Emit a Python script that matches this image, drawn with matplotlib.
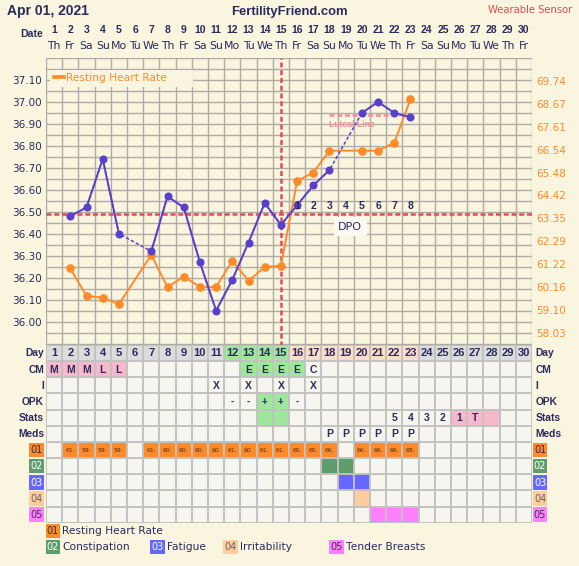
import numpy as np
import matplotlib.pyplot as plt
from matplotlib import transforms
from matplotlib.lines import Line2D
from matplotlib.patches import Rectangle

W, H = 579, 566
nan = np.nan

# ---- data (April 2021 cycle) ----
days = np.arange(1, 31)
weekdays = ["Th", "Fr", "Sa", "Su", "Mo", "Tu", "We", "Th", "Fr", "Sa",
            "Su", "Mo", "Tu", "We", "Th", "Fr", "Sa", "Su", "Mo", "Tu",
            "We", "Th", "Fr", "Sa", "Su", "Mo", "Tu", "We", "Th", "Fr"]
temps = np.array([nan, 36.48, 36.52, 36.74, 36.40, nan, 36.32, 36.57, 36.52, 36.27,
                  36.05, 36.19, 36.36, 36.54, 36.44, 36.53, 36.62, 36.69, nan, 36.95,
                  37.00, 36.95, 36.93, nan, nan, nan, nan, nan, nan, nan])
rhr = np.array([nan, 61.02, 59.74, 59.66, 59.36, nan, 61.65, 60.15, 60.64, 60.16,
                60.16, 61.37, 60.45, 61.08, 61.15, 65.09, 65.48, 66.50, nan, 66.50,
                66.50, 66.87, 68.89, nan, nan, nan, nan, nan, nan, nan])
temp_ticks = [36.00, 36.10, 36.20, 36.30, 36.40, 36.50, 36.60, 36.70, 36.80, 36.90, 37.00, 37.10]
rhr_ticks = [58.03, 59.10, 60.16, 61.22, 62.29, 63.35, 64.42, 65.48, 66.54, 67.61, 68.67, 69.74]

coverline = 36.49
ovulation_day = 15
luteal_line = 36.94
fertile_days = [12, 13, 14, 15]
dpo_days = [16, 17, 18, 19, 20, 21, 22, 23]

cm = {1: "M", 2: "M", 3: "M", 4: "L", 5: "L", 13: "E", 14: "E", 15: "E", 16: "E", 17: "C"}
intercourse = [11, 13, 15, 17]
opk = {12: "-", 13: "-", 14: "+", 15: "+", 16: "-"}
stats = {22: "5", 23: "4", 24: "3", 25: "2", 26: "1", 27: "T", 28: ""}
stats_green = [14, 15]
stats_pink = [26, 27, 28]
meds = [18, 19, 20, 21, 22, 23]
symptom_days = {"02": [18, 19], "03": [19, 20], "04": [20], "05": [21, 22, 23]}
symptom_names = {"01": "Resting Heart Rate", "02": "Constipation", "03": "Fatigue",
                 "04": "Irritability", "05": "Tender Breasts"}

# ---- colours ----
BG = "#faf5df"
NAVY = "#2b2a5e"
GRID = "#aeaca4"
ORANGE = "#ff8a2a"
BLUE = "#5840cc"
RED = "#e04b55"
PINKLINE = "#f58c9c"
CELL = "#f6f6ee"
TGRID = "#c2c2c0"
GRAY = "#dcdcdc"
GREEN = "#9ee69c"
PEACH = "#fddcc8"
PINK = "#f7b8cb"
sym_colors = {"01": ("#ff8a2a", "#3a2a40"), "02": ("#5e9e6b", "white"),
              "03": ("#6767ff", "white"), "04": ("#ffcc9e", "#666666"),
              "05": ("#ff80ff", "#4a2a5a")}

BOLD = "Liberation Sans"
REG = "DejaVu Sans"
DASH = (0, (2, 1.1))


def fx(px):
    return px / W


def fy(py):
    return 1 - py / H


fig = plt.figure(figsize=(W / 100, H / 100), dpi=100, facecolor=BG)

# ---- header ----
fig.text(fx(7.5), fy(15), "Apr 01, 2021", family=BOLD, fontweight="bold", fontsize=10,
         color=NAVY, va="baseline")
fig.text(fx(289), fy(15), "FertilityFriend.com", family=BOLD, fontweight="bold", fontsize=9.4,
         color=NAVY, ha="center", va="baseline")
fig.text(fx(572), fy(12.7), "Wearable Sensor", family=REG, fontsize=7.2, color=RED,
         ha="right", va="baseline")
fig.text(fx(42.5), fy(36.7), "Date", family=BOLD, fontweight="bold", fontsize=7.6,
         color=NAVY, ha="right", va="baseline")

# ---- chart ----
ax = fig.add_axes([fx(46), fy(346), 486 / W, 288 / H])
ax.set_facecolor(BG)
ax.set_axisbelow(True)
ax.set_xlim(0.5, 30.5)
ax.set_ylim(35.889, 37.200)
ax.set_xticks(np.arange(0.5, 31, 1))
ax.set_xticklabels([])
ax.set_yticks(temp_ticks)
ax.set_yticklabels([f"{t:.2f}" for t in temp_ticks])
ax.set_yticks(np.arange(35.90, 37.201, 0.05), minor=True)
ax.tick_params(which="both", length=0)
ax.tick_params(axis="y", labelsize=7.5, labelcolor=NAVY, pad=3)
ax.grid(True, which="both", color=GRID, lw=1.0)
for s in ax.spines.values():
    s.set_visible(False)

ax.axvline(ovulation_day, color=RED, lw=1.8, linestyle=DASH, zorder=1)
ax.axhline(coverline, color=RED, lw=1.8, linestyle=DASH, zorder=1)
ax.hlines(luteal_line, dpo_days[2], dpo_days[6] + 0.35, color=PINKLINE, lw=1.8,
          linestyles=DASH, zorder=1)
ax.text(19.37, 36.896, "Luteal Line", family=BOLD, fontweight="bold", fontsize=6.2,
        color=PINKLINE, ha="center", va="center")

hdr = transforms.blended_transform_factory(ax.transData, fig.transFigure)
for d, wd in zip(days, weekdays):
    ax.text(d, fy(32.7), str(d), transform=hdr, family=BOLD, fontweight="bold", fontsize=7.5,
            color=NAVY, ha="center", va="baseline", clip_on=False)
    ax.text(d, fy(49.3), wd, transform=hdr, family=REG, fontsize=7.8,
            color=NAVY, ha="center", va="baseline", clip_on=False)

ax2 = ax.twinx()
ax2.set_ylim(57.411, 70.81)
ax2.set_yticks(rhr_ticks)
ax2.set_yticklabels([f"{v:.2f}" for v in rhr_ticks])
ax2.tick_params(length=0, labelsize=7.5, labelcolor=ORANGE, pad=3)
for s in ax2.spines.values():
    s.set_visible(False)

ok = ~np.isnan(rhr)
ax2.plot(days[ok], rhr[ok], color=ORANGE, lw=1.4, marker="o", ms=5.2, zorder=3)
tok = ~np.isnan(temps)
ax2.plot(days[tok], temps[tok], transform=ax.transData, color=BLUE, lw=1.1,
         linestyle=(0, (2.2, 1.4)), zorder=4)
ax2.plot(days, temps, transform=ax.transData, color=BLUE, lw=1.4, marker="o", ms=4.8, zorder=4)

for i, d in enumerate(dpo_days, start=1):
    ax2.text(d, 36.528, str(i), transform=ax.transData, family=BOLD, fontweight="bold",
             fontsize=7.5, color=NAVY, ha="center", va="center", zorder=5)
ax2.text(19.27, 36.432, "DPO", transform=ax.transData, family=REG, fontsize=8, color=NAVY,
         ha="center", va="center", zorder=5,
         bbox=dict(fc="#fcfaf0", ec="none", pad=3.2))

ax2.add_patch(Rectangle(((50 - 46) / 486, (346 - 86.7) / 288), (193 - 50) / 486, 16.7 / 288,
                        transform=ax2.transAxes, fc=BG, ec="none", zorder=2))
ax2.legend(handles=[Line2D([], [], color=ORANGE, lw=2.6)], labels=["Resting Heart Rate"],
           loc="center left", bbox_to_anchor=((50 - 46) / 486, (346 - 78) / 288),
           frameon=False, handlelength=0.9, handletextpad=0.25, borderaxespad=0,
           borderpad=0.37, prop={"family": REG, "size": 7.7}, labelcolor=ORANGE)

# ---- table ----
tax = fig.add_axes([fx(46), fy(522.7), 486 / W, 177.7 / H])
tax.set_xlim(0.5, 30.5)
tax.set_ylim(11, 0)
tax.axis("off")


def cell(r, d, color):
    tax.add_patch(Rectangle((d - 0.5, r), 1, 1, fc=color, ec="none", zorder=1))


def ctext(r, d, s, size=7.5, bold=True, color=NAVY):
    tax.text(d, r + 0.52, s, family=BOLD if bold else REG,
             fontweight="bold" if bold else "normal", fontsize=size, color=color,
             ha="center", va="center", zorder=3)


for r in range(11):
    for d in days:
        cell(r, d, CELL)

for d in days:
    cell(0, d, GREEN if d in fertile_days else PEACH if d in dpo_days else GRAY)
    ctext(0, d, str(d), size=8)

for d, s in cm.items():
    if s in ("M", "L"):
        cell(1, d, PINK)
    elif s == "E":
        cell(1, d, GREEN)
    ctext(1, d, s)

for d in intercourse:
    ctext(2, d, "X")

for d, s in opk.items():
    if s == "+":
        cell(3, d, GREEN)
    ctext(3, d, s, size=7)

for d in stats_green:
    cell(4, d, GREEN)
for d in stats_pink:
    cell(4, d, PINK)
for d, s in stats.items():
    ctext(4, d, s)

for d in meds:
    ctext(5, d, "P")

for d, v in zip(days, rhr):
    if not np.isnan(v):
        cell(6, d, sym_colors["01"][0])
        ctext(6, d, f"{int(v)}.", size=4.4, bold=False, color="#4a3020")

for code, dl in symptom_days.items():
    r = 6 + int(code) - 1
    for d in dl:
        cell(r, d, sym_colors[code][0])

tax.hlines(np.arange(12), 0.5, 30.5, color=TGRID, lw=1.4, zorder=2)
tax.vlines(np.arange(0.5, 31), 0, 11, color=TGRID, lw=1.4, zorder=2)

for r, lab in enumerate(["Day", "CM", "I", "OPK", "Stats", "Meds"]):
    for x, ha in ((0.38, "right"), (30.7, "left")):
        tax.text(x, r + 0.52, lab, family=BOLD, fontweight="bold", fontsize=7.4, color=NAVY,
                 ha=ha, va="center", clip_on=False)


def sym_box(x0, yc, code, w=0.92):
    fc, tc = sym_colors[code]
    tax.add_patch(Rectangle((x0, yc - 0.45), w, 0.9, fc=fc, ec="none", clip_on=False))
    tax.text(x0 + w / 2, yc + 0.02, code, family=REG, fontsize=7, color=tc,
             ha="center", va="center", clip_on=False)


for code in sym_colors:
    r = 6 + int(code) - 1
    sym_box(-0.55, r + 0.5, code)
    sym_box(30.56, r + 0.5, code, w=0.87)

legend_pos = {"01": (0.47, 11.52), "02": (0.47, 12.51), "03": (6.92, 12.51),
              "04": (11.43, 12.51), "05": (17.97, 12.51)}
for code, (x0, yc) in legend_pos.items():
    sym_box(x0, yc, code)
    tax.text(x0 + 1.02, yc + 0.02, symptom_names[code], family=REG, fontsize=7.7, color=NAVY,
             ha="left", va="center", clip_on=False)

fig.savefig("out.png", dpi=100, facecolor=BG)
